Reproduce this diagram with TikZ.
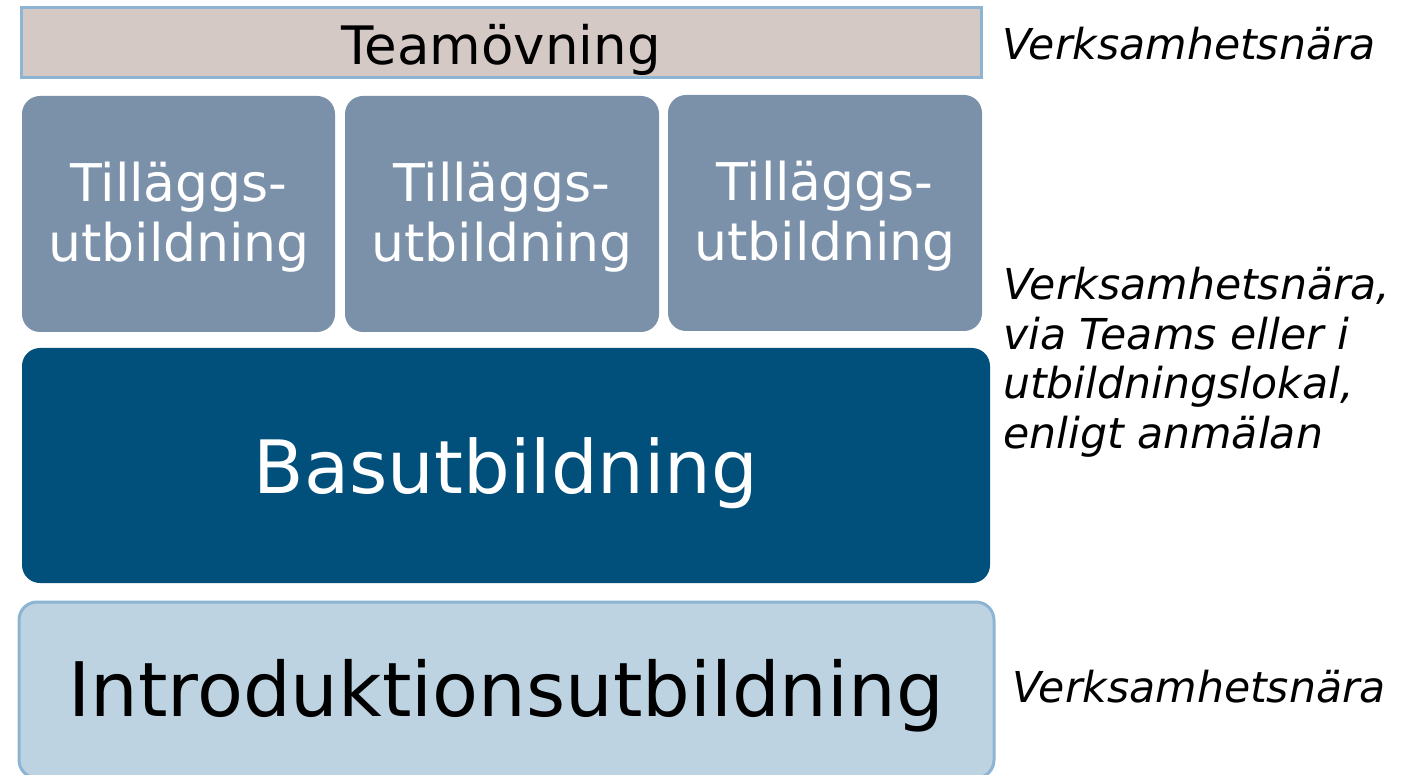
\documentclass[tikz,border=0pt]{standalone}
\usepackage{fontspec}
\setmainfont{DejaVu Sans}
\definecolor{teamfill}{HTML}{D5C9C5}
\definecolor{lightborder}{HTML}{8DB4D2}
\definecolor{tillfill}{HTML}{7B91AA}
\definecolor{basfill}{HTML}{00507B}
\definecolor{introfill}{HTML}{BDD3E2}
\tikzset{
  teambox/.style={draw=lightborder, line width=3pt, fill=teamfill},
  tillbox/.style={fill=tillfill, rounded corners=18pt},
  basbox/.style={fill=basfill, rounded corners=18pt},
  introbox/.style={draw=lightborder, line width=3pt, fill=introfill, rounded corners=18pt},
  tilltext/.style={inner sep=0pt, anchor=base, align=center, text=white, font=\fontsize{52}{60}\selectfont},
  sidetext/.style={anchor=base west, inner sep=0pt, font=\fontsize{42.6}{50}\selectfont\itshape, align=left},
}
\begin{document}
\begin{tikzpicture}[x=1pt,y=-1pt]
\useasboundingbox (0,0) rectangle (1405,775);
\begin{scope}
\clip (0,0) rectangle (1405,775);
% Teamövning
\draw[teambox] (21,8) rectangle (981,78);
\node[inner sep=0pt, anchor=base, font=\fontsize{53}{60}\selectfont] (team) at (501,65) {Teamövning};
% Tilläggs boxes
\fill[tillbox] (22,96) rectangle (335,332);
\fill[tillbox] (345,96) rectangle (659,332);
\fill[tillbox] (668,95) rectangle (982,331);
\node[tilltext] (t1) at (179,262) {Tilläggs-\\utbildning};
\node[tilltext] (t2) at (502,262) {Tilläggs-\\utbildning};
\node[tilltext] (t3) at (825,261) {Tilläggs-\\utbildning};
% Basutbildning
\fill[basbox] (22,348) rectangle (990,583);
\node[inner sep=0pt, anchor=base, text=white, font=\fontsize{73.6}{80}\selectfont] (bas) at (506,493) {Basutbildning};
% Introduktionsutbildning
\draw[introbox] (19,602) rectangle (994,778);
\node[inner sep=0pt, anchor=base, font=\fontsize{75.2}{80}\selectfont] (intro) at (506,716) {Introduktionsutbildning};
\end{scope}
% side texts
\node[sidetext] (s1) at (1002,60) {Verksamhetsnära};
\node[sidetext, font=\fontsize{42.6}{49.5}\selectfont\itshape] (s2) at (1003,448) {Verksamhetsnära,\\via Teams eller i\\utbildningslokal,\\enligt anmälan};
\node[sidetext] (s3) at (1012,702) {Verksamhetsnära};
\end{tikzpicture}
\end{document}
